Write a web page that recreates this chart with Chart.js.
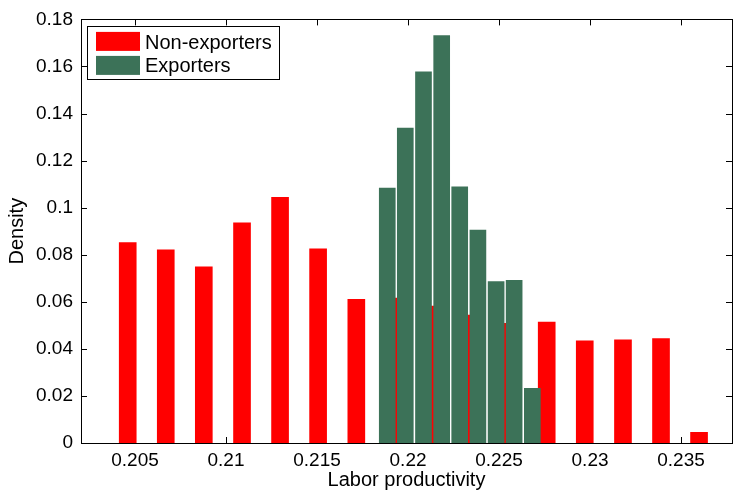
<!DOCTYPE html>
<html>
<head>
<meta charset="utf-8">
<script src="https://cdn.jsdelivr.net/npm/chart.js@4/dist/chart.umd.min.js"></script>
<style>
  html, body { margin: 0; padding: 0; background: #fff; }
  canvas { display: block; }
</style>
</head>
<body>
<canvas id="hist" width="733" height="492"></canvas>
<script>
// histogram bins
const nonExpCenters = [0.20460, 0.20669, 0.20878, 0.21088, 0.21297, 0.21506, 0.21716, 0.21925,
  0.22134, 0.22343, 0.22553, 0.22762, 0.22971, 0.23181, 0.23390, 0.23599];
const nonExpDensity = [0.0852, 0.0821, 0.0749, 0.0936, 0.1044, 0.0825, 0.0611, 0.0616,
  0.0582, 0.0544, 0.0509, 0.0514, 0.0434, 0.0438, 0.0444, 0.0045];

const expCenters = [0.21886, 0.21985, 0.22085, 0.22185, 0.22284, 0.22384, 0.22484, 0.22583, 0.22683];
const expDensity = [0.1083, 0.1338, 0.1577, 0.1731, 0.1089, 0.0905, 0.0686, 0.0691, 0.0232];

const xTicks = [0.205, 0.21, 0.215, 0.22, 0.225, 0.23, 0.235];
const yTicks = [0, 0.02, 0.04, 0.06, 0.08, 0.1, 0.12, 0.14, 0.16, 0.18];

const FONT = '"Liberation Sans", Arial, Helvetica, sans-serif';
const TICK = 6;

function fmt(v) {
  return String(+v.toFixed(4));
}

// matlab style box, inward ticks and legend
const matlabAxes = {
  id: "matlabAxes",
  beforeDatasetsDraw(chart) {
    const { ctx, chartArea: a, scales } = chart;
    ctx.save();
    ctx.strokeStyle = "#000";
    ctx.lineWidth = 1;
    ctx.beginPath();
    scales.x.ticks.forEach((t) => {
      const px = Math.round(scales.x.getPixelForValue(t.value)) + 0.5;
      ctx.moveTo(px, a.bottom);
      ctx.lineTo(px, a.bottom - TICK);
      ctx.moveTo(px, a.top);
      ctx.lineTo(px, a.top + TICK);
    });
    scales.y.ticks.forEach((t) => {
      const py = Math.round(scales.y.getPixelForValue(t.value)) + 0.5;
      ctx.moveTo(a.left, py);
      ctx.lineTo(a.left + TICK, py);
      ctx.moveTo(a.right, py);
      ctx.lineTo(a.right - TICK, py);
    });
    ctx.stroke();
    ctx.restore();
  },
  afterDatasetsDraw(chart) {
    const { ctx, chartArea: a } = chart;
    ctx.save();
    ctx.strokeStyle = "#000";
    ctx.lineWidth = 1;
    const l = Math.floor(a.left) + 0.5, t = Math.floor(a.top) + 0.5;
    const r = Math.floor(a.right) + 0.5, b = Math.floor(a.bottom) + 0.5;
    ctx.strokeRect(l, t, r - l, b - t);

    // legend
    const lx = l + 6, ly = t + 7;
    ctx.fillStyle = "#fff";
    ctx.fillRect(lx, ly, 192, 53);
    ctx.strokeRect(lx, ly, 192, 53);
    ctx.font = "20px " + FONT;
    ctx.textBaseline = "alphabetic";
    ctx.textAlign = "left";
    chart.data.datasets.forEach((ds, i) => {
      ctx.fillStyle = ds.backgroundColor;
      ctx.fillRect(a.left + 15, a.top + 12.5 + i * 24, 44, 19);
      ctx.fillStyle = "#000";
      ctx.fillText(ds.label, a.left + 64, a.top + 30 + i * 22.5);
    });
    ctx.restore();
  },
};

new Chart(document.getElementById("hist"), {
  type: "bar",
  data: {
    datasets: [
      {
        label: "Non-exporters",
        data: nonExpCenters.map((x, i) => ({ x, y: nonExpDensity[i] })),
        backgroundColor: "#ff0000",
        barThickness: 17,
        order: 1,
      },
      {
        label: "Exporters",
        data: expCenters.map((x, i) => ({ x, y: expDensity[i] })),
        backgroundColor: "#3c7258",
        barThickness: 16,
        order: 0,
      },
    ],
  },
  options: {
    responsive: false,
    animation: false,
    grouped: false,
    layout: { padding: { top: 16, right: 1, left: 0, bottom: 0 } },
    plugins: { legend: { display: false }, tooltip: { enabled: false } },
    scales: {
      x: {
        type: "linear",
        offset: false,
        min: 0.202033,
        max: 0.2378,
        afterBuildTicks: (axis) => {
          axis.ticks = xTicks.map((v) => ({ value: v }));
        },
        afterFit: (scale) => {
          scale.height = 49;
        },
        grid: { display: false, drawTicks: false },
        border: { display: false },
        ticks: {
          color: "#000",
          font: { family: FONT, size: 19 },
          padding: 6,
          maxRotation: 0,
          callback: (v) => fmt(v),
        },
        title: {
          display: true,
          text: "Labor productivity",
          color: "#000",
          font: { family: FONT, size: 20 },
          padding: { top: 0, bottom: 0 },
        },
      },
      y: {
        min: 0,
        max: 0.18,
        afterBuildTicks: (axis) => {
          axis.ticks = yTicks.map((v) => ({ value: v }));
        },
        afterFit: (scale) => {
          scale.width = 81;
        },
        grid: { display: false, drawTicks: false },
        border: { display: false },
        ticks: {
          color: "#000",
          font: { family: FONT, size: 19 },
          padding: 8,
          callback: (v) => fmt(v),
        },
        title: {
          display: true,
          text: "Density",
          color: "#000",
          font: { family: FONT, size: 20 },
          padding: { top: 5, bottom: 0 },
        },
      },
    },
  },
  plugins: [matlabAxes],
});
</script>
</body>
</html>
